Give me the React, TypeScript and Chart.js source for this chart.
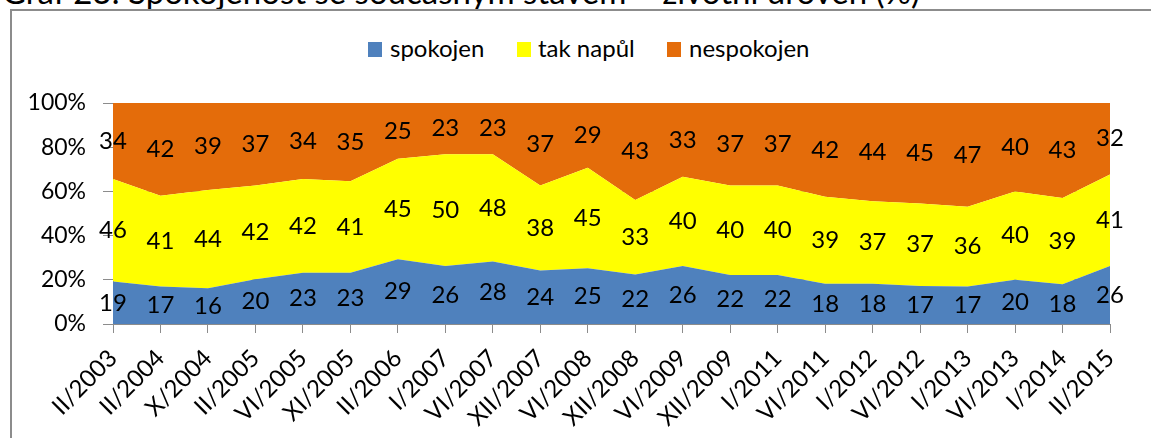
import React, { useEffect, useRef } from "react";
import { Chart, registerables } from "chart.js";

Chart.register(...registerables);

const TITLE = "Graf 23: Spokojenost se současným stavem – životní úroveň (%)";

const categories = [
  "II/2003", "II/2004", "X/2004", "II/2005", "VI/2005", "XI/2005", "II/2006",
  "I/2007", "VI/2007", "XII/2007", "VI/2008", "XII/2008", "VI/2009", "XII/2009",
  "I/2011", "VI/2011", "I/2012", "VI/2012", "I/2013", "VI/2013", "I/2014", "II/2015",
];

const seriesNames = ["spokojen", "tak napůl", "nespokojen"];

const spokojen = [19, 17, 16, 20, 23, 23, 29, 26, 28, 24, 25, 22, 26, 22, 22, 18, 18, 17, 17, 20, 18, 26];
const takNapul = [46, 41, 44, 42, 42, 41, 45, 50, 48, 38, 45, 33, 40, 40, 40, 39, 37, 37, 36, 40, 39, 41];
const nespokojen = [34, 42, 39, 37, 34, 35, 25, 23, 23, 37, 29, 43, 33, 37, 37, 42, 44, 45, 47, 40, 43, 32];

const yTicks = [0, 20, 40, 60, 80, 100];

const seriesColors = ["#4F81BD", "#FFFF00", "#E46C0A"];

const FONT = "Lato";

const rawSeries = [spokojen, takNapul, nespokojen];
const totals = categories.map((_, j) => rawSeries.reduce((s, arr) => s + arr[j], 0));
const percentSeries = rawSeries.map((arr) => arr.map((v, j) => (v / totals[j]) * 100));

const bandLabels = {
  id: "bandLabels",
  afterDatasetsDraw(chart: any) {
    const ctx = chart.ctx;
    const yScale = chart.scales.y;
    ctx.save();
    ctx.font = `24px ${FONT}`;
    ctx.fillStyle = "#000000";
    ctx.textAlign = "center";
    ctx.textBaseline = "middle";
    rawSeries.forEach((arr, i) => {
      const meta = chart.getDatasetMeta(i);
      const prev = i > 0 ? chart.getDatasetMeta(i - 1) : null;
      meta.data.forEach((pt: any, j: number) => {
        const top = pt.y;
        const bottom = prev ? prev.data[j].y : yScale.getPixelForValue(0);
        ctx.fillText(String(arr[j]), pt.x, (top + bottom) / 2);
      });
    });
    ctx.restore();
  },
};

export default function App() {
  const canvasRef = useRef<HTMLCanvasElement | null>(null);

  useEffect(() => {
    const canvas = canvasRef.current;
    if (!canvas) return;
    const chart = new Chart(canvas, {
      type: "line",
      data: {
        labels: categories,
        datasets: percentSeries.map((data, i) => ({
          label: seriesNames[i],
          data,
          backgroundColor: seriesColors[i],
          borderColor: seriesColors[i],
          borderWidth: 0,
          pointRadius: 0,
          pointHoverRadius: 0,
          tension: 0,
          fill: i === 0 ? "origin" : "-1",
        })),
      },
      options: {
        animation: false,
        responsive: false,
        maintainAspectRatio: false,
        events: [],
        layout: { padding: { top: 103, left: 0, right: 41, bottom: 0 } },
        plugins: {
          legend: { display: false },
          tooltip: { enabled: false },
          title: { display: false },
        },
        scales: {
          x: {
            offset: false,
            grid: {
              display: true,
              drawOnChartArea: false,
              drawTicks: true,
              tickLength: 9,
              color: "#8c8c8c",
            },
            border: { display: true, color: "#8c8c8c", width: 1 },
            ticks: {
              autoSkip: false,
              minRotation: 45,
              maxRotation: 45,
              padding: 11,
              color: "#000000",
              font: { family: FONT, size: 24 },
            },
            afterFit: (scale: any) => {
              scale.height = 438 - 324;
            },
          },
          y: {
            stacked: true,
            min: 0,
            max: 100,
            afterBuildTicks: (scale: any) => {
              scale.ticks = yTicks.map((v) => ({ value: v }));
            },
            grid: {
              display: true,
              drawOnChartArea: true,
              drawTicks: true,
              tickLength: 10,
              color: "#8c8c8c",
            },
            border: { display: true, color: "#8c8c8c", width: 1 },
            ticks: {
              padding: 17,
              color: "#000000",
              font: { family: FONT, size: 23 },
              callback: (v: any) => `${v}%`,
            },
            afterFit: (scale: any) => {
              scale.width = 113;
            },
          },
        },
      },
      plugins: [bandLabels],
    });
    return () => chart.destroy();
  }, []);

  const legendItems = [
    { box: 368, text: 390 },
    { box: 517, text: 538 },
    { box: 667, text: 689 },
  ];

  return (
    <div
      style={{
        position: "fixed",
        left: 0,
        top: 0,
        width: 1151,
        height: 438,
        overflow: "hidden",
        background: "#ffffff",
        fontFamily: FONT,
      }}
    >
      <div
        style={{
          position: "absolute",
          left: 2,
          top: -25,
          fontSize: 33,
          lineHeight: "33px",
          whiteSpace: "nowrap",
          color: "#000",
        }}
      >
        {TITLE}
      </div>
      <div
        style={{
          position: "absolute",
          left: 10,
          top: 9,
          width: 1300,
          height: 600,
          border: "2px solid #8c8c8c",
          boxSizing: "border-box",
        }}
      />
      {seriesNames.map((name, i) => (
        <React.Fragment key={name}>
          <div
            style={{
              position: "absolute",
              left: legendItems[i].box,
              top: 42,
              width: 14,
              height: 15,
              background: seriesColors[i],
            }}
          />
          <div
            style={{
              position: "absolute",
              left: legendItems[i].text,
              top: 36,
              fontSize: 24,
              lineHeight: "24px",
              whiteSpace: "nowrap",
              color: "#000",
            }}
          >
            {name}
          </div>
        </React.Fragment>
      ))}
      <canvas
        ref={canvasRef}
        width={1151}
        height={438}
        style={{ position: "absolute", left: 0, top: 0, width: 1151, height: 438 }}
      />
    </div>
  );
}
